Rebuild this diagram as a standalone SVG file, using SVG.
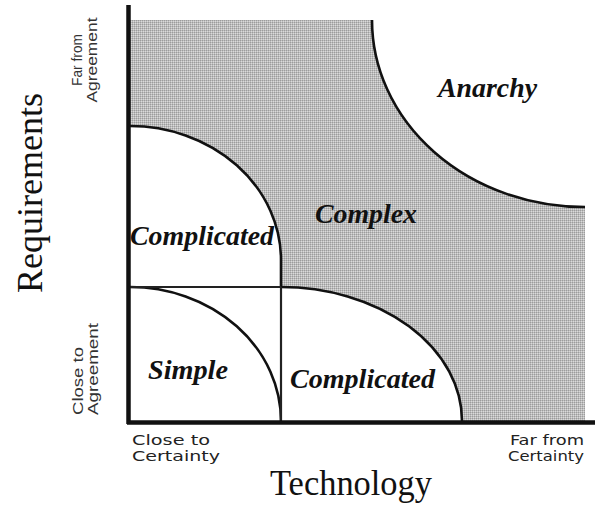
<svg xmlns="http://www.w3.org/2000/svg" width="597" height="506" viewBox="0 0 597 506">
  <style>
    .curve { fill: none; stroke: #111; stroke-width: 2.6; }
    .div { fill: none; stroke: #222; stroke-width: 2.2; }
    .axis { fill: none; stroke: #111; stroke-width: 4.5; }
    .white { fill: #fff; stroke: none; }
    .region { font-family: "Liberation Serif", "Times New Roman", serif; font-style: italic; font-weight: bold; font-size: 27px; fill: #111; }
    .title { font-family: "Liberation Serif", "Times New Roman", serif; font-size: 35px; fill: #111; }
    .small { font-family: "DejaVu Sans", "Liberation Sans", sans-serif; font-size: 13.5px; fill: #222; }
    .vsmall { font-family: "Liberation Sans", Arial, sans-serif; font-size: 14.5px; fill: #333; }
  </style>
  <defs>
    <pattern id="dots" x="0" y="0" width="2" height="2" patternUnits="userSpaceOnUse">
      <rect width="2" height="2" fill="#bcbcbc"/>
      <rect width="1" height="1" fill="#9c9c9c"/>
      <rect x="1" y="1" width="1" height="1" fill="#dadada"/>
    </pattern>
  </defs>
  <rect width="597" height="506" fill="#fff"/>

  <g id="complex-area">
    <rect x="130" y="20" width="455" height="401" fill="url(#dots)"/>
  </g>

  <g id="complicated-top">
    <path class="white" d="M130,126 A151,134 0 0 1 281,260 L281,287 L130,287 Z"/>
    <path class="curve" d="M130,126 A151,134 0 0 1 281,260 L281,287"/>
    <text class="region" x="130" y="245" textLength="144" lengthAdjust="spacingAndGlyphs">Complicated</text>
  </g>

  <g id="simple">
    <rect class="white" x="130" y="287" width="151" height="134"/>
    <path class="curve" d="M130,287 A151,134 0 0 1 281,421"/>
    <text class="region" x="148" y="379" textLength="80" lengthAdjust="spacingAndGlyphs">Simple</text>
  </g>

  <g id="complicated-bottom">
    <path class="white" d="M281,287 A181,134 0 0 1 462,421 L281,421 Z"/>
    <path class="curve" d="M281,287 A181,134 0 0 1 462,421"/>
    <text class="region" x="290" y="388" textLength="145" lengthAdjust="spacingAndGlyphs">Complicated</text>
  </g>

  <g id="anarchy">
    <path class="white" d="M372,20 A213,187 0 0 0 585,207 L597,207 L597,0 L372,0 Z"/>
    <path class="curve" d="M372,20 A213,187 0 0 0 585,207"/>
    <text class="region" x="438" y="97" textLength="99" lengthAdjust="spacingAndGlyphs">Anarchy</text>
  </g>

  <g id="complex">
    <text class="region" x="315" y="223" textLength="102" lengthAdjust="spacingAndGlyphs">Complex</text>
  </g>

  <g id="connectors">
    <path class="div" d="M130,287 L281,287"/>
    <path class="div" d="M281,287 L281,421"/>
    <path class="axis" d="M128.5,5 L128.5,424"/>
    <path class="axis" d="M127,422.5 L595,422.5"/>
  </g>

  <g id="axis-labels">
    <text class="title" transform="translate(42,193) rotate(-90)" text-anchor="middle" textLength="200" lengthAdjust="spacingAndGlyphs">Requirements</text>
    <text class="title" x="351" y="495" text-anchor="middle" textLength="162" lengthAdjust="spacingAndGlyphs">Technology</text>
    <g transform="translate(82,60) rotate(-90)">
      <text class="vsmall" x="0" y="0" text-anchor="middle" textLength="52" lengthAdjust="spacingAndGlyphs">Far from</text>
      <text class="vsmall" x="0" y="15" text-anchor="middle" textLength="85" lengthAdjust="spacingAndGlyphs">Agreement</text>
    </g>
    <g transform="translate(83,415) rotate(-90)">
      <text class="vsmall" x="0" y="0" textLength="68" lengthAdjust="spacingAndGlyphs">Close to</text>
      <text class="vsmall" x="0" y="15" textLength="92" lengthAdjust="spacingAndGlyphs">Agreement</text>
    </g>
    <text class="small" x="132" y="445" textLength="78" lengthAdjust="spacingAndGlyphs">Close to</text>
    <text class="small" x="132" y="461" textLength="88" lengthAdjust="spacingAndGlyphs">Certainty</text>
    <text class="small" x="584" y="445" text-anchor="end" textLength="74" lengthAdjust="spacingAndGlyphs">Far from</text>
    <text class="small" x="584" y="461" text-anchor="end" textLength="76" lengthAdjust="spacingAndGlyphs">Certainty</text>
  </g>
</svg>
